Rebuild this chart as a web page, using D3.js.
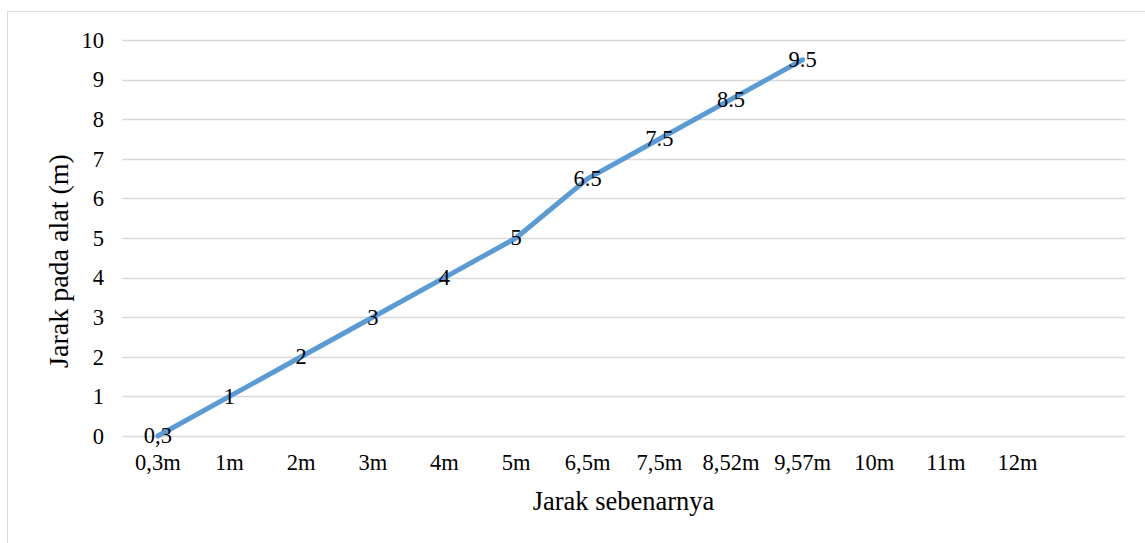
<!DOCTYPE html>
<html>
<head>
<meta charset="utf-8">
<script src="https://cdn.jsdelivr.net/npm/d3@7"></script>
<style>
  html, body { margin: 0; padding: 0; background: #fff; }
  svg text { font-family: "Liberation Serif", "Times New Roman", Tinos, "DejaVu Serif", serif !important; }
</style>
</head>
<body>
<svg id="chart" width="1145" height="543"></svg>
<script>
// Categories along the x axis (the last slot is left empty)
const categories = ["0,3m", "1m", "2m", "3m", "4m", "5m", "6,5m", "7,5m", "8,52m", "9,57m", "10m", "11m", "12m", ""];
// Measured distance on the device (m), one per category that has a reading
const values = [0, 1, 2, 3, 4, 5, 6.5, 7.5, 8.5, 9.5];
// Text of each data label
const labels = ["0,3", "1", "2", "3", "4", "5", "6.5", "7.5", "8.5", "9.5"];
// Y axis ticks
const yTicks = [0, 1, 2, 3, 4, 5, 6, 7, 8, 9, 10];

const svg = d3.select("#chart");
const W = 1145, H = 543;
const plot = { left: 122, right: 1125, top: 40, bottom: 436 };
const FS = 22.5;

// chart frame
svg.append("rect")
  .attr("x", 7.5).attr("y", 11.5)
  .attr("width", W + 10).attr("height", H + 10)
  .attr("fill", "#fff").attr("stroke", "#d9d9d9").attr("stroke-width", 1);

const x = d3.scaleBand().domain(categories).range([plot.left, plot.right]).padding(0);
const y = d3.scaleLinear().domain([0, 10]).range([plot.bottom, plot.top]);

// horizontal gridlines
svg.append("g")
  .selectAll("line").data(yTicks).join("line")
  .attr("x1", plot.left).attr("x2", plot.right)
  .attr("y1", d => Math.round(y(d)) + 0.5).attr("y2", d => Math.round(y(d)) + 0.5)
  .attr("stroke", "#d9d9d9").attr("stroke-width", 1.5);

// y axis
const yAxis = svg.append("g")
  .attr("transform", `translate(${plot.left},0)`)
  .call(d3.axisLeft(y).tickValues(yTicks).tickSize(0).tickPadding(18));
yAxis.select(".domain").remove();
yAxis.selectAll("text").attr("font-size", FS).attr("fill", "#000");

// x axis
const xAxis = svg.append("g")
  .attr("transform", `translate(0,${plot.bottom})`)
  .call(d3.axisBottom(x).tickSize(0).tickPadding(18));
xAxis.select(".domain").remove();
xAxis.selectAll("text").attr("font-size", FS).attr("fill", "#000");

// series line
const cx = (d, i) => x(categories[i]) + x.bandwidth() / 2;
const line = d3.line().x(cx).y(d => y(d));
svg.append("path")
  .datum(values)
  .attr("d", line)
  .attr("fill", "none")
  .attr("stroke", "#5b9bd5")
  .attr("stroke-width", 5)
  .attr("stroke-linejoin", "round")
  .attr("stroke-linecap", "round");

// data labels centred on each point
svg.append("g")
  .selectAll("text").data(values).join("text")
  .attr("x", cx)
  .attr("y", d => y(d))
  .attr("dy", "0.33em")
  .attr("text-anchor", "middle")
  .attr("font-size", FS)
  .attr("fill", "#000")
  .text((d, i) => labels[i]);

// axis titles
svg.append("text")
  .attr("x", (plot.left + plot.right) / 2).attr("y", 510)
  .attr("text-anchor", "middle")
  .attr("font-size", 26.5).attr("fill", "#000")
  .text("Jarak sebenarnya");

svg.append("text")
  .attr("transform", `translate(68,${(plot.top + plot.bottom) / 2 + 23}) rotate(-90)`)
  .attr("text-anchor", "middle")
  .attr("font-size", 28).attr("fill", "#000")
  .text("Jarak pada alat (m)");
</script>
</body>
</html>
